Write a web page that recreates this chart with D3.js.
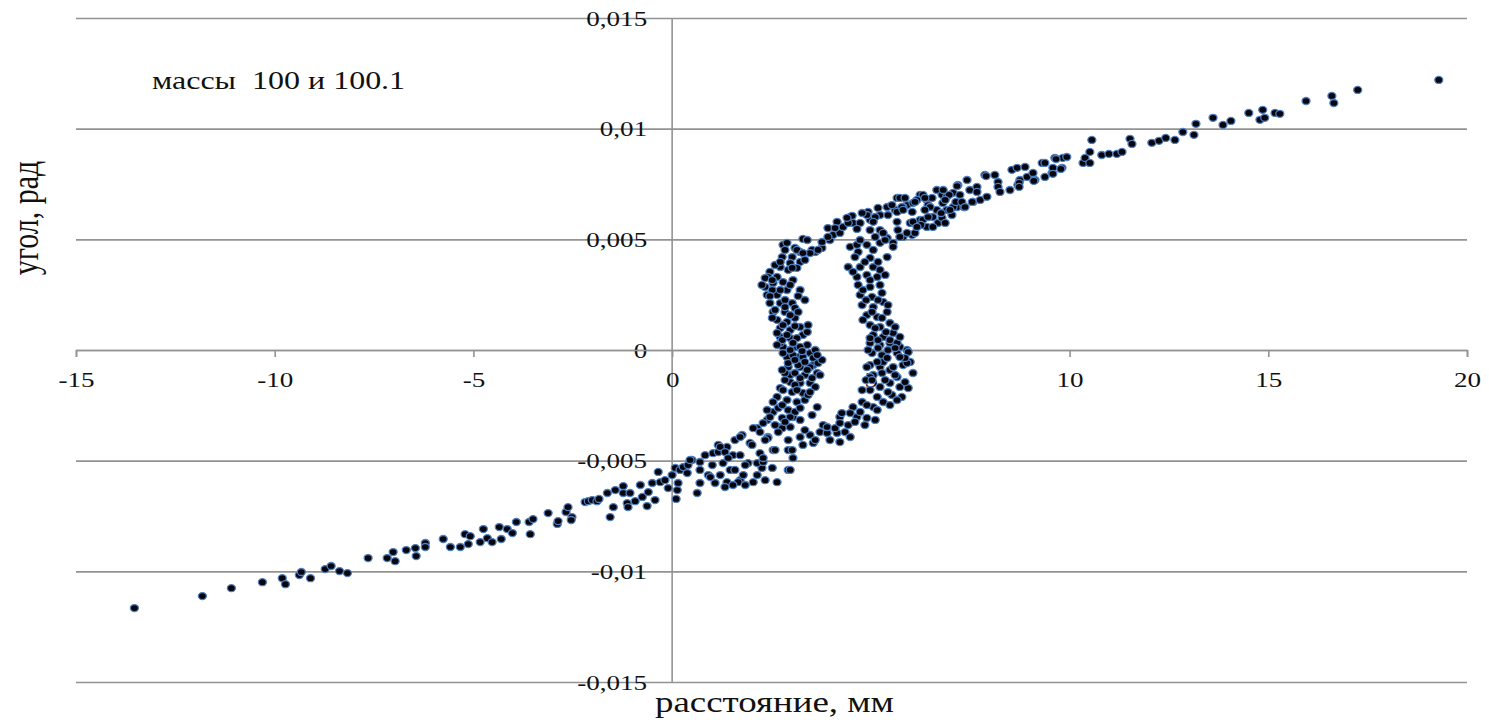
<!DOCTYPE html>
<html>
<head>
<meta charset="utf-8">
<script src="https://cdn.jsdelivr.net/npm/d3@7/dist/d3.min.js"></script>
<style>
  html, body { margin: 0; padding: 0; background: #fff; }
  svg { display: block; }
  text { font-family: "Liberation Serif", "Times New Roman", serif; fill: #111; }
</style>
</head>
<body>
<svg id="chart" width="1489" height="723"></svg>
<script>
// Axis ticks
const xTicks = [-15, -10, -5, 0, 5, 10, 15, 20];
const xTickLabels = ["-15", "-10", "-5", "0", "5", "10", "15", "20"];
const yTicks = [0.015, 0.01, 0.005, 0, -0.005, -0.01, -0.015];
const yTickLabels = ["0,015", "0,01", "0,005", "0", "-0,005", "-0,01", "-0,015"];

// Measured points: [distance, mm ; angle, rad]
const tailLow = [
  [-13.53,-0.01166],[-11.82,-0.01112],[-11.09,-0.01076],[-10.31,-0.01049],[-9.81,-0.01031],
  [-9.73,-0.01058],[-9.38,-0.01017],[-9.33,-0.01003],[-9.10,-0.01031],[-8.73,-0.00990],
  [-8.58,-0.00976],[-8.37,-0.00999],[-8.17,-0.01008],[-7.65,-0.00940],[-7.17,-0.00940],
  [-7.02,-0.00913],[-6.97,-0.00954],[-6.69,-0.00904],[-6.46,-0.00895],[-6.44,-0.00931],
  [-6.21,-0.00872],[-6.21,-0.00890],[-5.76,-0.00854],[-5.58,-0.00890],[-5.33,-0.00890],
  [-5.21,-0.00832],[-5.13,-0.00877],[-5.08,-0.00841],[-4.83,-0.00868],[-4.75,-0.00809],
  [-4.65,-0.00850],[-4.53,-0.00868],[-4.35,-0.00800],[-4.30,-0.00854],[-4.15,-0.00809],
  [-4.02,-0.00827],[-3.92,-0.00777],[-3.60,-0.00777],[-3.57,-0.00832],[-3.50,-0.00764],
  [-3.12,-0.00737],[-2.89,-0.00786],[-2.87,-0.00773],[-2.67,-0.00732],[-2.62,-0.00710],
  [-2.52,-0.00755],[-2.54,-0.00768],[-2.19,-0.00687],[-2.11,-0.00683],[-2.01,-0.00678],
  [-1.89,-0.00683]
];

const bandLow = [
  [-1.84,-0.00673],[-1.63,-0.00646],[-1.43,-0.00633],[-1.56,-0.00755],[-1.48,-0.00710],
  [-1.23,-0.00615],[-1.23,-0.00646],[-1.06,-0.00646],[-1.13,-0.00692],[-1.11,-0.00710],
  [-0.93,-0.00683],[-0.75,-0.00664],[-0.63,-0.00705],[-0.60,-0.00642],[-0.50,-0.00601],
  [-0.43,-0.00678],[-0.30,-0.00597],[-0.10,-0.00624],[0.00,-0.00565],[0.08,-0.00533],
  [0.13,-0.00633],[0.10,-0.00673],[0.20,-0.00542],[0.28,-0.00529],[0.15,-0.00601],
  [0.38,-0.00556],[0.40,-0.00520],[0.50,-0.00497],[0.63,-0.00646],[0.83,-0.00475],
  [0.91,-0.00565],[1.03,-0.00466],[1.16,-0.00461],[1.16,-0.00429],[1.28,-0.00511],
  [1.38,-0.00438],[1.46,-0.00542],[1.53,-0.00475],[1.58,-0.00407],[1.71,-0.00588],
  [1.76,-0.00384],[1.79,-0.00565],[1.91,-0.00511],[1.96,-0.00420],[2.04,-0.00597],
  [2.14,-0.00353],[2.21,-0.00466],[2.26,-0.00533],[2.34,-0.00588],[2.41,-0.00393],
  [2.52,-0.00533],[2.54,-0.00452],[2.67,-0.00348],[2.64,-0.00597],[0.96,-0.00574],
  [1.38,-0.00597],[2.14,-0.00511],[1.66,-0.00597],[2.29,-0.00506],[2.77,-0.00353],
  [2.92,-0.00542],[2.92,-0.00452],[2.41,-0.00398],[2.92,-0.00407],[2.59,-0.00452],
  [3.02,-0.00452],[2.29,-0.00488],[2.97,-0.00542],[3.04,-0.00488],[0.45,-0.00497],
  [1.21,-0.00438],[1.71,-0.00393],[2.04,-0.00353],[2.39,-0.00316],[2.54,-0.00280],
  [1.08,-0.00601],[1.33,-0.00619],[1.53,-0.00610],[1.84,-0.00610],[1.21,-0.00565],
  [0.70,-0.00542],[-0.80,-0.00610],[-0.35,-0.00551],[-0.18,-0.00588],[0.70,-0.00506],
  [1.01,-0.00520],[1.33,-0.00461],[0.70,-0.00601],[1.84,-0.00520],[2.14,-0.00565],
  [1.58,-0.00542],[2.21,-0.00371],[2.34,-0.00407],[2.01,-0.00429],[1.71,-0.00475],
  [1.41,-0.00488],
  [3.22,-0.00393],[3.29,-0.00429],[3.47,-0.00384],[3.55,-0.00420],[3.72,-0.00371],
  [3.80,-0.00339],[3.90,-0.00375],[3.97,-0.00407],[4.15,-0.00375],[4.22,-0.00416],
  [3.90,-0.00348],[4.22,-0.00303],[4.10,-0.00353],[4.35,-0.00371],[3.60,-0.00407],
  [3.34,-0.00362]
];

const columnLeft = [
  [2.79,0.00475],[2.84,0.00452],[3.09,0.00461],[2.77,0.00420],[3.02,0.00420],
  [3.22,0.00443],[3.22,0.00398],[2.72,0.00375],[2.97,0.00393],[3.14,0.00371],
  [2.46,0.00353],[2.41,0.00330],[2.64,0.00330],[2.92,0.00362],[2.34,0.00285],
  [2.54,0.00303],[2.79,0.00307],[3.04,0.00316],[2.39,0.00249],[2.64,0.00249],
  [2.89,0.00271],[2.46,0.00212],[2.72,0.00212],[3.02,0.00212],[2.54,0.00172],
  [2.84,0.00172],[3.09,0.00190],[2.64,0.00136],[2.89,0.00127],[3.09,0.00145],
  [2.72,0.00099],[2.97,0.00090],[3.22,0.00104],[2.72,0.00059],[2.97,0.00054],
  [3.29,0.00068],[2.79,0.00014],[3.09,0.00014],[3.40,0.00023],[2.89,-0.00032],
  [3.17,-0.00032],[3.47,-0.00014],[2.92,-0.00077],[3.22,-0.00077],[3.55,-0.00068],
  [2.97,-0.00113],[3.65,-0.00104],[2.64,0.00077],[3.14,0.00054],[2.72,0.00032],
  [3.22,0.00014],[2.79,-0.00014],[3.04,-0.00023],[3.29,-0.00032],[3.55,-0.00036],
  [2.92,-0.00059],[3.17,-0.00068],[3.47,-0.00077],[3.67,-0.00059],[2.84,-0.00104],
  [3.09,-0.00104],[3.34,-0.00113],[2.97,-0.00145],[3.22,-0.00149],[3.47,-0.00149],
  [3.60,-0.00167],[2.72,-0.00172],[3.02,-0.00190],[3.29,-0.00194],[2.64,-0.00212],
  [2.89,-0.00226],[3.14,-0.00235],[2.54,-0.00235],[2.39,-0.00271],[2.67,-0.00262],
  [2.92,-0.00271],[2.46,-0.00303],[2.77,-0.00307],[3.04,-0.00303],[2.29,-0.00330],
  [2.59,-0.00339],[2.97,-0.00348],[3.65,-0.00258],[3.52,-0.00294],[2.26,0.00294],
  [2.34,0.00325],[2.59,0.00384],[2.52,0.00271],[3.72,-0.00113],[3.77,-0.00045],
  [3.60,0.00000],[3.42,0.00113],[3.34,0.00226],[3.22,0.00271],[2.84,0.00226],
  [2.59,0.00181],[2.97,0.00158],[2.77,0.00045],[3.04,0.00032],[3.34,-0.00054],
  [3.09,-0.00158],[3.34,-0.00226],[2.79,-0.00181],[3.09,-0.00280],[3.22,-0.00316],
  [3.42,-0.00203],[2.72,0.00398],[3.02,0.00371],[2.52,0.00316],[2.97,0.00294],
  [2.72,0.00271],[3.17,0.00244],[2.46,0.00244],[2.84,0.00194],[3.17,0.00172],
  [2.52,0.00145],[2.79,0.00113],[3.09,0.00108],[3.40,0.00081],[2.89,0.00068],
  [2.64,0.00023],[2.97,0.00000],[3.27,-0.00005],[3.65,-0.00023],[3.09,-0.00045],
  [2.77,-0.00090],[3.40,-0.00090],[3.22,-0.00127],[3.52,-0.00127],[2.84,-0.00136],
  [3.14,-0.00181],[3.47,-0.00190],[2.77,-0.00249],[3.22,-0.00262],[2.97,-0.00303],
  [2.67,-0.00371],[2.84,-0.00325]
];

const columnRight = [
  [4.48,0.00466],[4.68,0.00443],[4.90,0.00475],[5.06,0.00452],[5.23,0.00484],
  [5.41,0.00420],[4.98,0.00416],[4.43,0.00375],[4.73,0.00375],[5.06,0.00375],
  [5.18,0.00398],[4.65,0.00330],[4.90,0.00339],[5.16,0.00330],[4.68,0.00294],
  [4.98,0.00285],[5.23,0.00294],[4.73,0.00249],[5.03,0.00240],[5.28,0.00258],
  [4.78,0.00203],[5.06,0.00194],[5.31,0.00217],[4.90,0.00158],[5.16,0.00149],
  [5.41,0.00172],[4.98,0.00113],[5.23,0.00104],[5.48,0.00122],[5.06,0.00068],
  [5.31,0.00059],[5.56,0.00077],[4.98,0.00032],[5.23,0.00023],[5.48,0.00032],
  [5.73,0.00014],[5.91,0.00000],[5.03,-0.00014],[5.28,-0.00023],[5.66,-0.00014],
  [4.98,-0.00068],[5.23,-0.00077],[5.99,-0.00054],[5.06,-0.00113],[5.48,-0.00090],
  [5.81,-0.00068],[6.06,-0.00104],[5.18,0.00009],[5.43,0.00000],[4.98,0.00054],
  [5.48,0.00045],[5.66,0.00032],[5.73,0.00059],[5.56,-0.00077],[5.66,-0.00122],
  [5.48,-0.00149],[5.73,-0.00167],[5.53,-0.00203],[5.78,-0.00212],[5.31,-0.00235],
  [5.91,-0.00059],[5.94,-0.00009],[5.86,-0.00036],[5.94,-0.00172],[4.90,-0.00077],
  [4.98,-0.00122],[4.88,-0.00136],[5.03,-0.00136],[5.23,-0.00167],[5.28,-0.00104],
  [5.31,-0.00054],[5.16,-0.00212],[4.98,-0.00181],[4.78,-0.00235],[5.06,-0.00258],
  [5.11,-0.00316],[5.16,-0.00271],[4.55,-0.00258],[4.65,-0.00303],[4.73,-0.00280],
  [4.90,-0.00307],[4.43,-0.00339],[4.48,-0.00285],[4.27,-0.00285],[4.22,-0.00330],
  [4.48,-0.00393],[4.60,0.00420],[4.85,0.00398],[5.23,0.00362],[4.55,0.00353],
  [4.98,0.00316],[5.36,0.00339],[4.80,0.00271],[5.18,0.00226],[4.88,0.00226],
  [5.43,0.00203],[5.03,0.00172],[5.28,0.00145],[4.80,0.00136],[5.11,0.00099],
  [5.61,0.00104],[5.38,0.00081],[5.18,0.00045],[5.61,0.00009],[4.93,0.00000],
  [5.41,-0.00036],[5.73,-0.00032],[5.16,-0.00054],[5.61,-0.00113],[5.36,-0.00136],
  [5.86,-0.00145],[4.78,-0.00181],[5.43,-0.00190],[5.66,-0.00226],[4.90,-0.00249],
  [5.48,-0.00249],[4.60,-0.00325],[4.85,-0.00339]
];

const bandHigh = [
  [2.89,0.00484],[3.14,0.00452],[3.29,0.00502],[3.40,0.00497],[3.60,0.00443],
  [3.77,0.00461],[3.77,0.00488],[3.97,0.00497],[4.05,0.00520],[4.22,0.00529],
  [4.30,0.00556],[4.48,0.00601],[4.55,0.00574],[4.73,0.00574],[4.93,0.00624],
  [4.98,0.00588],[5.18,0.00642],[5.23,0.00610],[5.41,0.00646],[5.43,0.00610],
  [5.66,0.00687],[5.61,0.00633],[5.91,0.00655],[6.06,0.00664],[6.24,0.00701],
  [6.41,0.00678],[6.66,0.00723],[3.52,0.00452],[3.34,0.00407],[4.15,0.00579],
  [3.92,0.00551],[4.43,0.00574],[4.53,0.00606],[4.65,0.00547],[4.90,0.00610],
  [5.11,0.00601],[5.66,0.00624],[5.81,0.00646],[6.16,0.00678],[6.31,0.00701],
  [6.44,0.00655],[6.54,0.00687],[6.79,0.00701],[6.91,0.00692],[7.07,0.00710],
  [3.67,0.00452],[3.47,0.00438],[3.29,0.00438],[3.92,0.00511],
  [4.65,0.00475],[4.98,0.00542],[5.23,0.00542],[5.41,0.00506],[5.56,0.00484],
  [5.68,0.00542],[5.81,0.00511],[5.99,0.00574],[6.04,0.00520],[6.24,0.00588],
  [6.41,0.00556],[6.56,0.00601],[6.66,0.00633],[6.69,0.00574],[5.36,0.00497],
  [5.31,0.00529],[5.56,0.00466],[5.73,0.00511],[5.91,0.00529],[6.06,0.00579],
  [6.11,0.00529],[6.31,0.00588],[6.79,0.00597],[6.91,0.00633],[7.04,0.00610],
  [7.17,0.00646],[6.81,0.00664],[6.87,0.00574],[6.26,0.00565],[6.44,0.00601],
  [6.77,0.00619],[7.07,0.00646],[7.34,0.00646],[7.14,0.00669],[7.57,0.00669],
  [6.97,0.00701],[6.82,0.00723],[5.78,0.00646],[5.73,0.00687],[6.11,0.00669],
  [6.36,0.00687],[6.49,0.00646],[6.16,0.00556],[5.81,0.00633],[6.56,0.00556],
  [6.99,0.00633],[4.10,0.00551],[4.40,0.00597],[4.78,0.00619],[5.06,0.00579],
  [5.53,0.00655],[5.86,0.00687],[6.04,0.00624],[4.73,0.00497],[5.11,0.00511],
  [5.66,0.00579],[6.36,0.00633],[6.87,0.00678],[7.24,0.00701],[7.49,0.00723]
];

const tailHigh = [
  [7.19,0.00746],[7.42,0.00768],[7.29,0.00669],[7.37,0.00646],[7.55,0.00669],
  [7.67,0.00737],[7.67,0.00714],[7.75,0.00678],[7.92,0.00692],[7.87,0.00791],
  [8.12,0.00791],[8.20,0.00759],[8.20,0.00737],[8.25,0.00714],[8.50,0.00723],
  [8.70,0.00746],[8.75,0.00768],[8.55,0.00814],[8.68,0.00823],[8.88,0.00827],
  [8.93,0.00782],[9.08,0.00800],[9.13,0.00768],[9.31,0.00845],[9.38,0.00845],
  [9.38,0.00782],[9.56,0.00800],[9.58,0.00823],[9.63,0.00868],[9.81,0.00823],
  [9.83,0.00868],[9.93,0.00872],[10.34,0.00845],[10.39,0.00868],[10.51,0.00895],
  [10.51,0.00845],[10.56,0.00949],[9.66,0.00863],[9.78,0.00818],[9.58,0.00796],
  [9.10,0.00764],[8.73,0.00755],[8.73,0.00737],[7.90,0.00786],[7.17,0.00741],
  [10.81,0.00881],[10.99,0.00886],[11.19,0.00886],[11.32,0.00895],[11.52,0.00954],
  [11.57,0.00931],[12.07,0.00936],[12.25,0.00945],[12.42,0.00958],[12.65,0.00949],
  [12.85,0.00985],[13.13,0.00972],[13.18,0.01022],[13.61,0.01049],[13.86,0.01017],
  [14.06,0.01035],[14.51,0.01071],[14.79,0.01040],[14.91,0.01049],[14.86,0.01085],
  [15.17,0.01071],[15.29,0.01067],[15.95,0.01125],[16.60,0.01148],[16.65,0.01116],
  [17.25,0.01175],[19.29,0.01220]
];

const series = [tailLow, bandLow, columnLeft, columnRight, bandHigh, tailHigh];

const svg = d3.select("#chart");
const plotLeft = 76, plotRight = 1467, plotTop = 18, plotBottom = 682;
const x = d3.scaleLinear().domain([-15, 20]).range([plotLeft, plotRight]);
const y = d3.scaleLinear().domain([-0.015, 0.015]).range([plotBottom, plotTop]);
const stretch = 1.23;

function widen(sel) {
  sel.each(function () {
    const w = this.getComputedTextLength();
    d3.select(this).attr("textLength", w * stretch).attr("lengthAdjust", "spacingAndGlyphs");
  });
}

// horizontal grid
svg.append("g")
  .attr("transform", `translate(${plotLeft},0)`)
  .call(d3.axisLeft(y).tickValues(yTicks).tickSize(-(plotRight - plotLeft)).tickFormat(""))
  .call(g => g.select(".domain").remove())
  .call(g => g.selectAll(".tick line").attr("stroke", "#939393").attr("stroke-width", 1.6));

// vertical axis through x = 0
svg.append("line")
  .attr("x1", x(0)).attr("x2", x(0)).attr("y1", plotTop).attr("y2", plotBottom)
  .attr("stroke", "#939393").attr("stroke-width", 1.6);

// y tick labels
const yAxis = svg.append("g")
  .attr("transform", `translate(${x(0)},0)`)
  .call(d3.axisLeft(y).tickValues(yTicks).tickSize(0).tickPadding(25)
    .tickFormat((d, i) => yTickLabels[i]))
  .call(g => g.select(".domain").remove());
yAxis.selectAll("text").attr("font-size", 22).style("font-family", "'Liberation Serif', serif").attr("fill", "#111").call(widen);

// horizontal axis through y = 0
const xAxis = svg.append("g")
  .attr("transform", `translate(0,${y(0)})`)
  .call(d3.axisBottom(x).tickValues(xTicks).tickSize(7).tickPadding(14)
    .tickFormat((d, i) => xTickLabels[i]));
xAxis.select(".domain").attr("stroke", "#939393").attr("stroke-width", 1.6);
xAxis.selectAll(".tick line").attr("stroke", "#939393").attr("stroke-width", 1.6);
xAxis.selectAll("text").attr("font-size", 22).style("font-family", "'Liberation Serif', serif").attr("fill", "#111").call(widen);

// points
svg.append("g")
  .selectAll("ellipse")
  .data(series.flat())
  .join("ellipse")
  .attr("cx", d => x(d[0]))
  .attr("cy", d => y(d[1]))
  .attr("rx", 4.0)
  .attr("ry", 3.5)
  .attr("fill", "#05050d")
  .attr("stroke", "#4f7fbf")
  .attr("stroke-width", 1.3);

// titles
svg.append("text")
  .attr("x", 152).attr("y", 89)
  .attr("font-size", 26)
  .style("white-space", "pre")
  .text("массы  100 и 100.1")
  .call(widen);

svg.append("text")
  .attr("x", 655).attr("y", 712)
  .attr("font-size", 30)
  .text("расстояние, мм")
  .call(widen);

svg.append("text")
  .attr("transform", "translate(38,218) rotate(-90) scale(1,1.23)")
  .attr("text-anchor", "middle")
  .attr("font-size", 30)
  .text("угол, рад");
</script>
</body>
</html>
